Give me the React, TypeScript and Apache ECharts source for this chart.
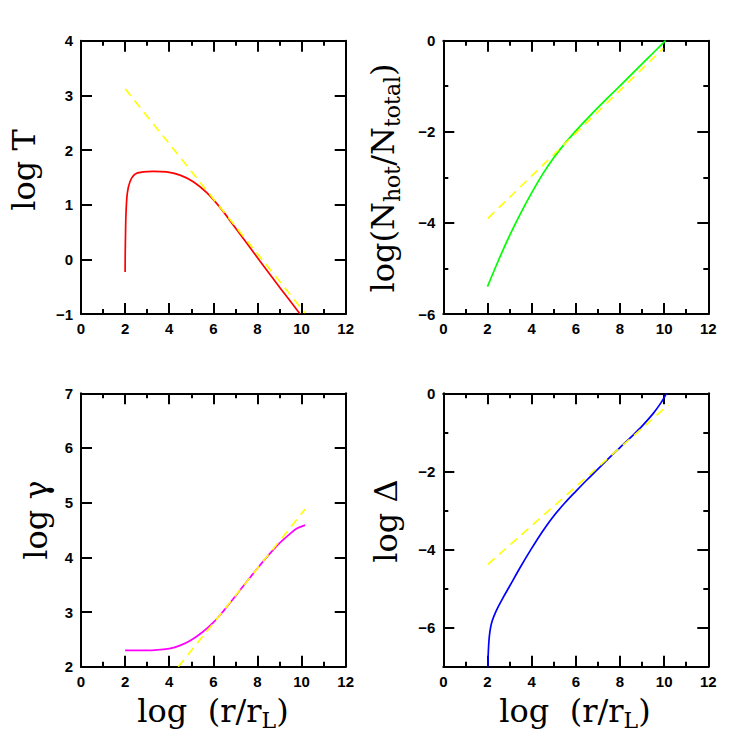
import React, { useEffect, useRef } from 'react';
import * as echarts from 'echarts';

// ---------- data ----------
// Panel 1: log T
const tempX = [2.0, 2.005, 2.02, 2.04, 2.1, 2.22, 2.45, 2.83, 3.28, 3.88, 4.49, 5.09, 5.7, 6.3, 6.9, 7.51, 8.11, 8.5, 9.0, 9.5, 9.93];
const tempY = [-0.23, 0.1, 0.5, 0.84, 1.21, 1.42, 1.56, 1.6, 1.61, 1.6, 1.54, 1.42, 1.22, 0.95, 0.63, 0.3, -0.03, -0.24, -0.51, -0.77, -1.0];
const tempFitX = [2.0, 10.15];
const tempFitY = [3.12, -0.98];

// Panel 2: log(N_hot/N_total)
const fracX = [2.0, 2.5, 3.0, 3.5, 4.0, 4.5, 5.0, 5.5, 6.0, 6.5, 7.0, 7.5, 8.0, 8.5, 9.0, 9.5, 10.0, 10.07];
const fracY = [-5.4, -4.82, -4.28, -3.79, -3.34, -2.93, -2.57, -2.26, -1.98, -1.72, -1.47, -1.23, -0.99, -0.75, -0.51, -0.27, -0.03, 0.0];
const fracFitX = [2.02, 9.96];
const fracFitY = [-3.9, -0.17];

// Panel 3: log gamma
const gammaX = [2.0, 2.5, 3.0, 3.5, 4.0, 4.5, 5.0, 5.5, 6.0, 6.5, 7.0, 7.5, 8.0, 8.5, 9.0, 9.5, 9.8, 10.16];
const gammaY = [2.3, 2.3, 2.3, 2.31, 2.33, 2.39, 2.49, 2.63, 2.81, 3.04, 3.29, 3.55, 3.8, 4.04, 4.26, 4.44, 4.53, 4.59];
const gammaFitX = [4.41, 10.16];
const gammaFitY = [2.0, 4.88];

// Panel 4: log Delta
const deltaX = [2.02, 2.04, 2.08, 2.14, 2.22, 2.35, 2.5, 2.7, 3.0, 3.5, 4.0, 4.5, 5.0, 5.5, 6.0, 6.5, 7.0, 7.5, 8.0, 8.5, 9.0, 9.5, 9.8, 10.0, 10.1];
const deltaY = [-7.0, -6.6, -6.25, -6.0, -5.82, -5.63, -5.45, -5.24, -4.94, -4.44, -3.97, -3.53, -3.14, -2.81, -2.51, -2.22, -1.94, -1.66, -1.39, -1.12, -0.84, -0.52, -0.29, -0.11, 0.0];
const deltaFitX = [2.02, 10.19];
const deltaFitY = [-4.38, -0.3];

// axis ranges
const xRange = [0, 12];
const yRanges = [
  { min: -1, max: 4, step: 1, minor: false },
  { min: -6, max: 0, step: 2, minor: true },
  { min: 2, max: 7, step: 1, minor: false },
  { min: -7, max: 0, step: 2, minor: true },
];
const curveColors = ['#ff0000', '#00ff00', '#ff00ff', '#0000ff'];

function pairs(xs: number[], ys: number[]) {
  return xs.map((x, i) => [x, ys[i]]);
}

const GRIDS = [
  { left: 81, top: 40.7, width: 264.7, height: 273.3 },
  { left: 443.3, top: 40.7, width: 265, height: 273.3 },
  { left: 81, top: 393.3, width: 264.7, height: 273.4 },
  { left: 443.3, top: 393.3, width: 265, height: 273.4 },
];

const LABEL_FONT = 'Liberation Sans';
const TITLE_FONT = 'DejaVu Serif';

function fmt(v: number) {
  return String(v).replace('-', '\u2212');
}

const lineBlack = { color: '#000', width: 2 };

function makeXAxis(gridIndex: number, top: boolean) {
  return {
    type: 'value',
    gridIndex,
    position: top ? 'top' : 'bottom',
    min: xRange[0],
    max: xRange[1],
    interval: 2,
    axisLine: { show: true, onZero: false, lineStyle: lineBlack },
    axisTick: { show: true, inside: true, length: 11, lineStyle: lineBlack },
    minorTick: { show: true, splitNumber: 2, length: 5, lineStyle: lineBlack },
    splitLine: { show: false },
    minorSplitLine: { show: false },
    axisLabel: {
      show: !top,
      margin: 7,
      color: '#000',
      fontFamily: LABEL_FONT,
      fontSize: 15,
      fontWeight: 'bold',
      formatter: fmt,
    },
  };
}

function makeYAxis(gridIndex: number, right: boolean) {
  const r = yRanges[gridIndex];
  const base: any = {
    type: 'value',
    gridIndex,
    position: right ? 'right' : 'left',
    min: r.min,
    max: r.max,
    axisLine: { show: true, onZero: false, lineStyle: lineBlack },
    axisTick: { show: true, inside: true, length: 11, lineStyle: lineBlack },
    minorTick: { show: r.minor, splitNumber: 2, length: 5, lineStyle: lineBlack },
    splitLine: { show: false },
    minorSplitLine: { show: false },
    axisLabel: {
      show: !right,
      margin: 8,
      color: '#000',
      fontFamily: LABEL_FONT,
      fontSize: 15,
      fontWeight: 'bold',
      showMinLabel: r.min % r.step === 0,
      formatter: fmt,
    },
  };
  if (r.min % r.step === 0) {
    base.interval = r.step;
  } else {
    base.splitNumber = 4;
    base.minInterval = r.step;
    base.maxInterval = r.step;
  }
  return base;
}

const curves = [
  pairs(tempX, tempY),
  pairs(fracX, fracY),
  pairs(gammaX, gammaY),
  pairs(deltaX, deltaY),
];
const fits = [
  pairs(tempFitX, tempFitY),
  pairs(fracFitX, fracFitY),
  pairs(gammaFitX, gammaFitY),
  pairs(deltaFitX, deltaFitY),
];

const mainRich = { fontSize: 32, fontFamily: TITLE_FONT, lineHeight: 40, fill: '#000' };
const subRich = { fontSize: 22, fontFamily: TITLE_FONT, lineHeight: 16, verticalAlign: 'bottom', fill: '#000' };

function titleText(x: number, y: number, text: string, rotated: boolean) {
  return {
    type: 'text',
    x,
    y,
    rotation: rotated ? Math.PI / 2 : 0,
    silent: true,
    style: {
      text,
      rich: { a: mainRich, s: subRich },
      fill: '#000',
      align: 'center',
      verticalAlign: 'middle',
    },
  };
}

export default function App() {
  const ref = useRef<HTMLDivElement>(null);
  useEffect(() => {
    if (!ref.current) return;
    const chart = echarts.init(ref.current, undefined, { renderer: 'svg' });
    const xAxis: any[] = [];
    const yAxis: any[] = [];
    for (let i = 0; i < 4; i++) {
      xAxis.push(makeXAxis(i, false), makeXAxis(i, true));
      yAxis.push(makeYAxis(i, false), makeYAxis(i, true));
    }
    const series: any[] = [];
    for (let i = 0; i < 4; i++) {
      series.push({
        type: 'line',
        xAxisIndex: 2 * i,
        yAxisIndex: 2 * i,
        data: curves[i],
        symbol: 'none',
        showSymbol: false,
        smooth: 0.35,
        lineStyle: { color: curveColors[i], width: 1.7 },
        silent: true,
        z: 2,
      });
      series.push({
        type: 'line',
        xAxisIndex: 2 * i,
        yAxisIndex: 2 * i,
        data: fits[i],
        symbol: 'none',
        showSymbol: false,
        lineStyle: { color: '#ffff00', width: 1.6, type: [9, 6] },
        silent: true,
        z: 3,
      });
    }
    chart.setOption({
      animation: false,
      backgroundColor: '#fff',
      grid: GRIDS.map((g) => ({ ...g, containLabel: false, outerBoundsMode: 'none', show: false })),
      xAxis,
      yAxis,
      series,
      graphic: [
        titleText(24, 170, '{a|log T}', true),
        titleText(383, 178, '{a|log(N}{s|hot}{a|/N}{s|total}{a|)}', true),
        titleText(36, 520, '{a|log \u03b3}', true),
        titleText(386, 521, '{a|log \u0394}', true),
        titleText(213, 711, '{a|log  (r/r}{s|L}{a|)}', false),
        titleText(575, 711, '{a|log  (r/r}{s|L}{a|)}', false),
      ],
    });
    return () => chart.dispose();
  }, []);
  return (
    <div
      ref={ref}
      style={{ position: 'fixed', left: 0, top: 0, width: 747, height: 747, background: '#fff' }}
    />
  );
}
